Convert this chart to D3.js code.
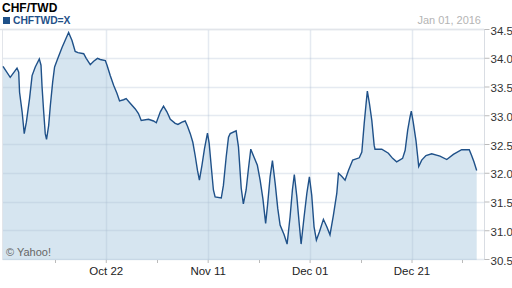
<!DOCTYPE html>
<html><head><meta charset="utf-8">
<script src="https://cdn.jsdelivr.net/npm/d3@7"></script>
<style>body{margin:0;background:#fff}svg{display:block;font-family:"Liberation Sans",Arial,sans-serif}</style>
</head><body><svg id="c" width="512" height="288"></svg>
<script>
const title = "CHF/TWD";
const symbol = "CHFTWD=X";
const dateLabel = "Jan 01, 2016";
const credit = "\u00A9 Yahoo!";
const times = [
"2015-10-01 20","2015-10-03 06","2015-10-04 14","2015-10-04 22","2015-10-05 02","2015-10-05 14","2015-10-06 00","2015-10-06 10","2015-10-07 01","2015-10-07 13",
"2015-10-08 04","2015-10-08 23","2015-10-09 07","2015-10-09 12","2015-10-09 19","2015-10-10 03","2015-10-10 09","2015-10-10 19","2015-10-11 03","2015-10-11 14",
"2015-10-11 23","2015-10-12 13","2015-10-13 10","2015-10-14 05","2015-10-14 17","2015-10-15 09","2015-10-16 00","2015-10-16 13","2015-10-17 16","2015-10-18 04",
"2015-10-18 23","2015-10-19 15","2015-10-20 09","2015-10-20 22","2015-10-21 22","2015-10-22 06","2015-10-22 21","2015-10-23 13","2015-10-24 05","2015-10-24 17",
"2015-10-25 12","2015-10-26 00","2015-10-26 19","2015-10-27 19","2015-10-28 10","2015-10-28 23","2015-10-30 09","2015-10-31 09","2015-10-31 22","2015-11-01 17",
"2015-11-02 08","2015-11-03 00","2015-11-03 16","2015-11-04 15","2015-11-05 04","2015-11-05 23","2015-11-06 14","2015-11-07 01","2015-11-07 14","2015-11-08 02",
"2015-11-08 13","2015-11-09 00","2015-11-09 09","2015-11-09 21","2015-11-10 09","2015-11-10 23","2015-11-11 07","2015-11-11 17","2015-11-12 03","2015-11-12 11",
"2015-11-13 16","2015-11-14 02","2015-11-14 15","2015-11-15 02","2015-11-15 10","2015-11-16 14","2015-11-17 01","2015-11-17 14","2015-11-18 00","2015-11-18 13",
"2015-11-19 00","2015-11-19 11","2015-11-19 23","2015-11-20 18","2015-11-21 07","2015-11-21 20","2015-11-22 09","2015-11-22 18","2015-11-23 06","2015-11-23 17",
"2015-11-24 06","2015-11-24 18","2015-11-25 05","2015-11-26 00","2015-11-26 14","2015-11-27 04","2015-11-27 15","2015-11-28 00","2015-11-28 12","2015-11-28 23",
"2015-11-29 08","2015-11-29 22","2015-11-30 11","2015-11-30 23","2015-12-01 10","2015-12-01 21","2015-12-02 08","2015-12-02 22","2015-12-03 17","2015-12-04 09",
"2015-12-05 00","2015-12-05 16","2015-12-06 08","2015-12-06 16","2015-12-07 07","2015-12-07 23","2015-12-08 15","2015-12-09 11","2015-12-10 18","2015-12-11 06",
"2015-12-11 17","2015-12-12 02","2015-12-12 08","2015-12-12 18","2015-12-13 05","2015-12-13 16","2015-12-13 20","2015-12-15 04","2015-12-16 11","2015-12-17 07",
"2015-12-18 02","2015-12-19 06","2015-12-19 18","2015-12-20 06","2015-12-20 17","2015-12-20 23","2015-12-21 08","2015-12-21 21","2015-12-22 10","2015-12-23 00",
"2015-12-23 20","2015-12-24 23","2015-12-26 14","2015-12-27 22","2015-12-29 05","2015-12-30 20","2016-01-01 08","2016-01-01 19","2016-01-02 06","2016-01-02 19"
];
const rates = [
33.85,33.66,33.82,33.75,33.40,33.06,32.68,32.88,33.29,33.69,
33.84,33.98,33.87,33.49,33.09,32.68,32.58,32.82,33.17,33.58,
33.84,33.98,34.18,34.34,34.44,34.30,34.11,34.09,34.07,33.99,
33.88,33.94,33.99,33.97,33.95,33.87,33.69,33.52,33.38,33.25,
33.27,33.29,33.21,33.11,33.03,32.91,32.93,32.90,32.87,33.06,
33.16,33.06,32.93,32.86,32.84,32.88,32.90,32.81,32.68,32.53,
32.30,32.04,31.87,32.13,32.42,32.69,32.51,32.10,31.70,31.58,
31.56,31.78,32.27,32.62,32.68,32.73,32.45,31.73,31.46,31.70,
32.07,32.41,32.30,32.13,31.87,31.55,31.12,31.44,31.93,32.21,
31.81,31.38,31.09,30.92,30.76,31.23,31.70,31.97,31.58,31.12,
30.76,31.23,31.64,31.93,31.61,31.06,30.83,30.97,31.19,31.06,
30.92,31.26,31.64,31.99,31.94,31.87,32.04,32.22,32.26,32.36,
32.85,33.20,33.42,33.20,32.91,32.48,32.41,32.41,32.34,32.25,
32.19,32.25,32.39,32.74,32.97,33.07,32.88,32.56,32.11,32.22,
32.30,32.33,32.29,32.23,32.32,32.40,32.40,32.30,32.19,32.04
];
const yTicks = [30.5,31.0,31.5,32.0,32.5,33.0,33.5,34.0,34.5];
const xMajorTicks = ["2015-10-22","2015-11-11","2015-12-01","2015-12-21"];
const xMinorTicks = ["2015-10-12","2015-11-01","2015-11-21","2015-12-11","2015-12-31"];

const parseT = d3.utcParse("%Y-%m-%d %H");
const parseD = d3.utcParse("%Y-%m-%d");
const data = times.map((t,i)=>({t:parseT(t), v:rates[i]}));

const svg = d3.select("#c");
const L = 2.5, R = 484, T = 29, B = 260;
const x = d3.scaleUtc().domain([data[0].t, data[data.length-1].t]).range([3, 476.7]);
const y = d3.scaleLinear().domain([30.5, 34.5]).range([259, 29]);

// header
svg.append("text").attr("x",2).attr("y",12).attr("font-size",12).attr("font-weight","bold").attr("fill","#000").text(title);
svg.append("rect").attr("x",3).attr("y",17).attr("width",7).attr("height",7).attr("fill","#1f5189");
svg.append("text").attr("x",13).attr("y",24).attr("font-size",10.3).attr("font-weight","bold").attr("fill","#1f5189").text(symbol);
svg.append("text").attr("x",481).attr("y",24).attr("text-anchor","end").attr("font-size",11).attr("fill","#b4b4b4").text(dateLabel);

// area
const area = d3.area().x(d=>x(d.t)).y0(B).y1(d=>y(d.v)).curve(d3.curveLinear);
svg.append("path").datum(data).attr("d",area).attr("fill","#d6e5f0");

// grid
const g = svg.append("g");
g.selectAll("line.h").data(yTicks).join("line")
  .attr("x1",L).attr("x2",R).attr("y1",d=>Math.round(y(d))+0.5).attr("y2",d=>Math.round(y(d))+0.5)
  .attr("stroke","rgba(170,185,210,0.3)").attr("stroke-width",1.5);
g.selectAll("line.v").data(xMajorTicks).join("line")
  .attr("x1",d=>Math.round(x(parseD(d)))+0.5).attr("x2",d=>Math.round(x(parseD(d)))+0.5)
  .attr("y1",T).attr("y2",B)
  .attr("stroke","rgba(170,185,210,0.3)").attr("stroke-width",1.5);
// frame
svg.append("line").attr("x1",L).attr("x2",L).attr("y1",T).attr("y2",B).attr("stroke","#e2e5ea").attr("stroke-width",1);
svg.append("line").attr("x1",0).attr("x2",R).attr("y1",T+0.5).attr("y2",T+0.5).attr("stroke","#e2e5ea").attr("stroke-width",1.5);

// line
const line = d3.line().x(d=>x(d.t)).y(d=>y(d.v)).curve(d3.curveLinear);
svg.append("path").datum(data).attr("d",line).attr("fill","none").attr("stroke","#1f5189").attr("stroke-width",1.4);

// right axis
const ya = svg.append("g").attr("transform",`translate(${R+0.5},0)`)
  .call(d3.axisRight(y).tickValues(yTicks).tickSize(5).tickPadding(1).tickFormat(d3.format(".1f")));
ya.select(".domain").attr("stroke","#d9dde3").attr("d",`M0,${T}V${B}`);
ya.selectAll(".tick line").attr("stroke","#bbb");
ya.selectAll(".tick text").attr("font-size",11.5).attr("fill","#333").attr("font-family","Liberation Sans, Arial, sans-serif").attr("dy","0.45em");

// bottom axis
const xa = svg.append("g").attr("transform",`translate(0,${B})`)
  .call(d3.axisBottom(x).tickValues(xMajorTicks.map(parseD)).tickSize(3).tickPadding(4).tickFormat(d3.utcFormat("%b %d")));
xa.select(".domain").remove();
xa.selectAll(".tick line").attr("stroke","#bbb");
xa.selectAll(".tick text").attr("font-size",11.5).attr("fill","#222").attr("font-family","Liberation Sans, Arial, sans-serif");
svg.append("g").selectAll("line").data(xMinorTicks).join("line")
  .attr("x1",d=>Math.round(x(parseD(d)))+0.5).attr("x2",d=>Math.round(x(parseD(d)))+0.5)
  .attr("y1",B).attr("y2",B+3).attr("stroke","#bbb");

svg.append("text").attr("x",6).attr("y",255.5).attr("font-size",11).attr("fill","#666").text(credit);
</script></body></html>
